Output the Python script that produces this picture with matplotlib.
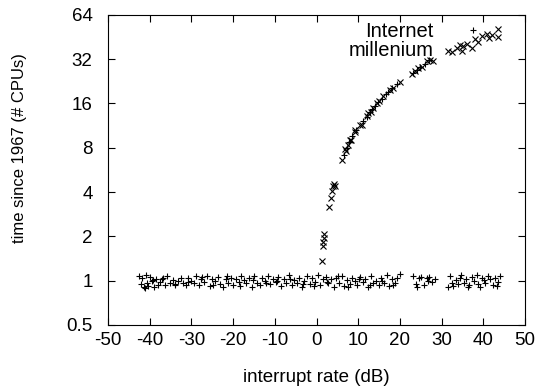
import numpy as np
import matplotlib
matplotlib.use("Agg")
import matplotlib.pyplot as plt
from matplotlib.ticker import FixedLocator, FixedFormatter, NullLocator

# flat "+" band around 1
flat_x = [-42.6, -42.1, -41.8, -41.4, -41.0, -40.6, -40.3, -39.9, -39.5, -39.0,
          -38.6, -38.1, -37.5, -37.0, -36.4, -35.8, -35.2, -34.5, -33.9, -33.2,
          -32.6, -31.9, -31.3, -30.7, -30.1, -29.4, -28.8, -28.1, -27.5, -26.9,
          -26.3, -25.6, -25.0, -24.4, -23.7, -23.1, -22.5, -21.8, -21.2, -20.6,
          -20.0, -19.3, -18.7, -18.1, -17.4, -16.8, -16.2, -15.5, -14.9, -14.3,
          -13.6, -13.0, -12.4, -11.7, -11.1, -10.5, -9.8, -9.2, -8.6, -7.9,
          -7.3, -6.7, -6.0, -5.4, -4.8, -4.1, -3.5, -2.9, -2.2, -1.6,
          -1.0, -0.3, 0.3, 0.9, 1.6, 2.2, 2.8, 3.5, 4.1, 4.7,
          5.4, 6.0, 6.6, 7.3, 7.9, 8.5, 9.2, 9.8, 10.4, 11.1,
          11.7, 12.3, 13.0, 13.6, 14.2, 14.9, 15.5, 16.1, 16.8, 17.4,
          18.0, 18.7, 19.3, 19.9, 23.2, 23.8, 24.5, 25.1, 25.7, 26.4,
          27.0, 27.6, 28.3, 31.5, 32.1, 32.8, 33.4, 34.0, 34.7, 35.3,
          35.9, 36.6, 37.2, 37.8, 38.5, 39.1, 39.7, 40.4, 41.0, 41.6,
          42.3, 42.9, 43.5, 44.0,
          -41.2, -39.2, -36.8, -34.0, -30.9, -27.8, -24.8, -21.5, -18.4, -15.2,
          -12.1, -9.5, -6.3, -3.2, -0.7, 2.5, 5.1, 7.6, 10.1, 12.7,
          15.8, 18.4, 24.1, 26.8, 32.4, 34.3, 36.2, 38.8, 40.1, 43.2]
flat_y = [1.08, 0.95, 1.04, 0.90, 1.10, 0.97, 0.92, 1.06, 0.99, 0.91,
          1.02, 0.94, 0.98, 1.03, 0.93, 1.07, 0.96, 1.01, 0.95, 0.99,
          1.05, 0.97, 0.93, 1.04, 1.00, 0.96, 1.08, 0.94, 1.06, 0.98,
          1.07, 0.92, 1.03, 0.99, 1.06, 0.95, 0.91, 1.02, 0.97, 1.05,
          0.94, 1.03, 0.98, 1.07, 1.01, 0.96, 1.04, 0.90, 1.08, 0.97,
          0.93, 1.05, 0.99, 1.08, 0.95, 1.02, 0.98, 1.06, 0.92, 1.03,
          0.97, 1.09, 0.94, 1.01, 0.96, 1.05, 0.91, 0.99, 1.07, 0.95,
          1.04, 0.98, 1.10, 0.93, 1.02, 1.06, 0.96, 1.03, 0.90, 1.05,
          0.97, 1.08, 0.92, 1.01, 0.95, 1.04, 0.99, 0.93, 1.06, 0.98,
          1.03, 0.91, 1.07, 0.96, 1.00, 0.94, 1.05, 0.97, 1.09, 0.92,
          1.02, 0.96, 1.04, 1.11, 1.07, 0.95, 1.04, 1.06, 0.93, 1.05,
          1.06, 0.98, 1.03, 0.90, 1.08, 0.92, 1.01, 0.95, 1.10, 0.97,
          1.02, 0.94, 1.06, 0.99, 1.10, 0.91, 1.04, 0.96, 1.07, 1.03,
          0.93, 1.05, 0.98, 1.08,
          0.89, 1.01, 1.05, 0.93, 0.98, 1.02, 0.94, 1.07, 0.92, 1.01,
          0.96, 1.00, 1.03, 0.95, 0.92, 0.98, 1.07, 0.90, 1.02, 0.94,
          0.99, 0.93, 0.91, 1.00, 0.96, 1.04, 0.90, 0.95, 1.01, 0.92]

# "+" points sitting on the rising curve
plus_x = [6.6, 7.2, 7.8, 8.6, 9.4, 11.2, 12.0, 12.8, 13.4, 14.0, 14.8,
          15.6, 16.6, 17.2, 18.0, 19.4, 23.2, 24.0, 24.8, 26.0, 27.0, 37.6]
plus_y = [7.2, 8.0, 8.7, 9.6, 10.5, 12.1, 13.0, 13.9, 14.6, 15.3, 16.4,
          17.2, 18.6, 19.3, 20.3, 21.8, 25.8, 27.0, 28.2, 29.8, 31.5, 50.7]

# "x" curve
cross_x = [1.4, 1.6, 1.6, 1.8, 1.9, 3.0, 3.4, 3.6, 4.0, 4.2,
           4.4, 6.0, 6.8, 7.0, 7.6, 8.0, 8.2, 9.1, 9.2, 10.4,
           10.8, 12.0, 12.4, 13.0, 13.6, 14.4, 15.0, 16.0, 17.6, 18.3,
           20.0, 23.0, 23.6, 24.4, 25.2, 26.4, 27.2, 28.0, 31.6, 32.4,
           33.6, 34.4, 35.2, 34.8, 37.2, 36.0, 38.0, 38.8, 39.6, 40.8,
           42.0, 43.6, 43.6, 41.4]
cross_y = [1.37, 1.71, 1.82, 1.95, 2.08, 3.15, 3.64, 4.04, 4.37, 4.56,
           4.4, 6.64, 7.8, 7.65, 8.4, 9.1, 8.98, 10.2, 10.6, 11.5,
           11.5, 13.2, 13.7, 14.0, 14.9, 16.1, 16.6, 17.9, 19.9, 20.5,
           22.3, 25.3, 26.5, 27.9, 28.5, 31.1, 31.8, 31.1, 36.6, 35.8,
           38.2, 39.8, 39.2, 36.2, 38.2, 40.5, 44.2, 42.0, 45.9, 47.6,
           46.6, 51.5, 45.0, 44.5]

x_ticks = [-50, -40, -30, -20, -10, 0, 10, 20, 30, 40, 50]
y_ticks = [0.5, 1, 2, 4, 8, 16, 32, 64]
y_labels = ["0.5", "1", "2", "4", "8", "16", "32", "64"]

plt.rcParams['font.family'] = ['Liberation Sans', 'DejaVu Sans']
plt.rcParams['font.size'] = 13.5
plt.rcParams['axes.unicode_minus'] = False

fig = plt.figure(figsize=(5.51, 3.92), dpi=100)
ax = fig.add_axes([0.196, 0.171, 0.757, 0.791])

ax.plot(flat_x + plus_x, flat_y + plus_y, linestyle='none', marker='+',
        markersize=5, markeredgewidth=0.8, color='black')
ax.plot(cross_x, cross_y, linestyle='none', marker='x',
        markersize=4, markeredgewidth=0.8, color='black')

ax.set_yscale('log', base=2)
ax.set_xlim(-50, 50)
ax.set_ylim(0.5, 64)
ax.set_xticks(x_ticks)
ax.yaxis.set_major_locator(FixedLocator(y_ticks))
ax.yaxis.set_major_formatter(FixedFormatter(y_labels))
ax.yaxis.set_minor_locator(NullLocator())
ax.xaxis.set_minor_locator(NullLocator())
ax.tick_params(direction='in', length=5, width=0.8, top=True, right=True)
ax.tick_params(axis='y', pad=11)
ax.tick_params(axis='x', pad=5)

ax.text(28, 57, "Internet\nmillenium", ha='right', va='top',
        multialignment='right', linespacing=1.0, fontsize=14.5)

fig.text(316 / 551, 1 - 378 / 392, "interrupt rate (dB)", ha='center', va='center')
fig.text(20 / 551, 1 - 148 / 392, "time since 1967 (# CPUs)", ha='center', va='center',
         rotation=90, fontsize=12)

fig.savefig("out.png", dpi=100)
